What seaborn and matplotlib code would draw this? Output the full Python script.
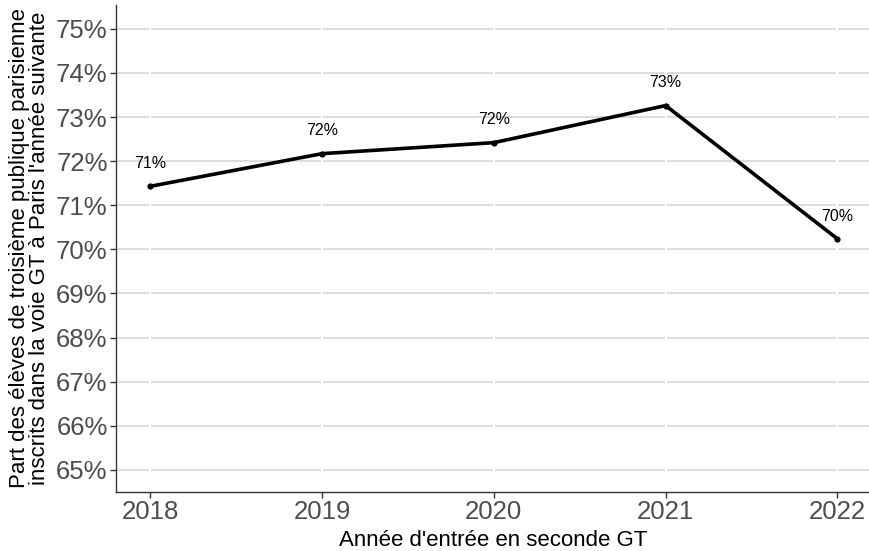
import matplotlib
matplotlib.use("Agg")
import matplotlib.pyplot as plt
import seaborn as sns
import pandas as pd
from matplotlib.ticker import FuncFormatter

years = [2018, 2019, 2020, 2021, 2022]
share = [71.43, 72.17, 72.42, 73.26, 70.24]
labels = ["71%", "72%", "72%", "73%", "70%"]
yticks = list(range(65, 76))

df = pd.DataFrame({"year": years, "share": share})

sns.set_theme(style="white")
plt.rcParams["font.family"] = ["Liberation Sans", "DejaVu Sans"]

fig = plt.figure(figsize=(8.7, 5.51), dpi=100)
ax = fig.add_axes([116 / 870, 1 - 492 / 551, (870 - 116) / 870, (492 - 5) / 551])

ax.set_xlim(2017.8, 2022.19)
ax.set_ylim(64.5, 75.54)
ax.set_yticks(yticks)
ax.set_xticks(years)
for y in yticks:
    ax.axhline(y, color="#d3d3d3", lw=1.1, zorder=0)
for x in years:
    ax.axvline(x, color="white", lw=1.5, zorder=0.5)

sns.lineplot(data=df, x="year", y="share", color="black", lw=2.6, ax=ax,
             marker="o", markersize=4.5, markeredgewidth=0, zorder=3)

for x, y, t in zip(years, share, labels):
    ax.annotate(t, (x, y), xytext=(0, 11), textcoords="offset points",
                ha="center", va="bottom", fontsize=11.5, color="black")

ax.yaxis.set_major_formatter(FuncFormatter(lambda v, p: f"{v:.0f}%"))
ax.tick_params(axis="both", which="major", length=4, width=1, color="#333333",
               labelsize=18.5, labelcolor="#4D4D4D", left=True, bottom=True, pad=2)
for s in ["top", "right"]:
    ax.spines[s].set_visible(False)
for s in ["left", "bottom"]:
    ax.spines[s].set_color("#333333")
    ax.spines[s].set_linewidth(1)

ax.set_xlabel("Année d'entrée en seconde GT", fontsize=16, color="black", labelpad=4)
ax.set_ylabel("Part des élèves de troisième publique parisienne\ninscrits dans la voie GT à Paris l'année suivante",
              fontsize=16, color="black", labelpad=4, linespacing=0.95)

fig.savefig("out.png", dpi=100)
